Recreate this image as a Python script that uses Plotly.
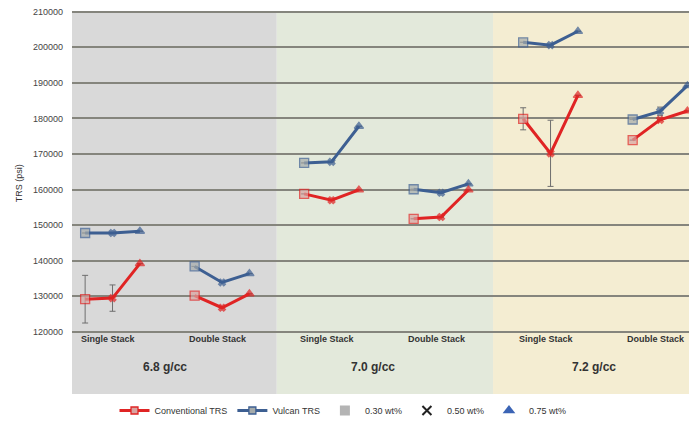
import plotly.graph_objects as go

# ---- data ----
densities = ["6.8 g/cc", "7.0 g/cc", "7.2 g/cc"]
stacks = ["Single Stack", "Double Stack"]
levels = ["0.30 wt%", "0.50 wt%", "0.75 wt%"]

# values per group (density x stack), each with 3 wt% levels
conventional = [
    [129200, 129500, 139200],   # 6.8 single
    [130200, 126800, 130700],   # 6.8 double
    [158800, 157000, 159900],   # 7.0 single
    [151800, 152300, 159900],   # 7.0 double
    [179900, 170200, 186500],   # 7.2 single
    [173900, 179600, 182100],   # 7.2 double
]
conventional_err = [
    [6700, 3700, 0],
    [0, 0, 0],
    [0, 0, 0],
    [0, 0, 0],
    [3100, 9300, 0],
    [0, 0, 0],
]
vulcan = [
    [147800, 147800, 148300],
    [138400, 133900, 136400],
    [167500, 167800, 177800],
    [160100, 159100, 161600],
    [201400, 200600, 204500],
    [179700, 182000, 189200],
]
vulcan_err = [
    [0, 0, 0],
    [0, 0, 0],
    [0, 0, 0],
    [0, 0, 0],
    [0, 0, 0],
    [0, 1200, 0],
]
y_ticks = [120000, 130000, 140000, 150000, 160000, 170000, 180000, 190000, 200000, 210000]

# ---- layout helpers ----
slots_per_group = 4
symbols = ["square", "x", "triangle-up"]

def build(values, errs):
    xs, ys, es, syms = [], [], [], []
    for g, (vals, ev) in enumerate(zip(values, errs)):
        for k, v in enumerate(vals):
            xs.append(g * slots_per_group + k)
            ys.append(v)
            es.append(ev[k])
            syms.append(symbols[k])
        xs.append(None); ys.append(None); es.append(0); syms.append("square")
    return xs, ys, es, syms

red = "#e02424"
blue = "#3d5f92"

fig = go.Figure()

panel_colors = ["#d9d9d9", "#e3e9db", "#f4edd2"]
panel_edges = [-0.48, 7.0, 14.9, 22.4]
for i, c in enumerate(panel_colors):
    fig.add_shape(type="rect", xref="x", yref="paper", x0=panel_edges[i], x1=panel_edges[i + 1],
                  y0=0, y1=0.997, fillcolor=c, line_width=0, layer="below")

cx, cy, ce, cs = build(conventional, conventional_err)
vx, vy, ve, vs = build(vulcan, vulcan_err)

def marker_style(syms, edge, fill_sq, fill_tri):
    fills = []
    sizes = []
    for s in syms:
        if s == "square":
            fills.append(fill_sq); sizes.append(9)
        elif s == "x":
            fills.append(edge); sizes.append(6)
        else:
            fills.append(fill_tri); sizes.append(8)
    return dict(symbol=syms, color=fills, size=sizes, line=dict(color=edge, width=1.3))

fig.add_trace(go.Scatter(
    x=vx, y=vy, mode="lines+markers", line=dict(color=blue, width=3),
    marker=marker_style(vs, blue, "#a5abab", blue),
    error_y=dict(type="data", array=ve, color="#7a7a7a", thickness=1, width=3),
    showlegend=False, connectgaps=False))
fig.add_trace(go.Scatter(
    x=cx, y=cy, mode="lines+markers", line=dict(color=red, width=3),
    marker=marker_style(cs, red, "#d9a3a0", red),
    error_y=dict(type="data", array=ce, color="#6e6e6e", thickness=1, width=3),
    showlegend=False, connectgaps=False))

# legend entries
fig.add_trace(go.Scatter(x=[None], y=[None], mode="lines+markers", name="Conventional TRS",
                         line=dict(color=red, width=3),
                         marker=dict(symbol="square", size=7, color="#d9a3a0", line=dict(color=red, width=1.3))))
fig.add_trace(go.Scatter(x=[None], y=[None], mode="lines+markers", name="Vulcan TRS",
                         line=dict(color=blue, width=3),
                         marker=dict(symbol="square", size=7, color="#a5abab", line=dict(color=blue, width=1.3))))
fig.add_trace(go.Scatter(x=[None], y=[None], mode="markers", name=levels[0],
                         marker=dict(symbol="square", size=10, color="#b4b4b4")))
fig.add_trace(go.Scatter(x=[None], y=[None], mode="markers", name=levels[1],
                         marker=dict(symbol="x-thin", size=9, line=dict(color="#222222", width=2))))
fig.add_trace(go.Scatter(x=[None], y=[None], mode="markers", name=levels[2],
                         marker=dict(symbol="triangle-up", size=11, color="#3b64b5")))

# category labels
label_font = dict(family="Liberation Sans", size=9, color="#333333")
for g in range(6):
    fig.add_annotation(x=g * slots_per_group + 0.85, y=0.125, xref="x", yref="paper",
                       text="<b>" + stacks[g % 2] + "</b>", showarrow=False, font=label_font)
density_x = [2.9, 10.5, 18.6]
for d, xpos in zip(densities, density_x):
    fig.add_annotation(x=xpos, y=0.047, xref="x", yref="paper", text="<b>" + d + "</b>",
                       showarrow=False, font=dict(family="Liberation Sans", size=12, color="#333333"))

fig.add_annotation(x=-0.097, y=0.55, xref="paper", yref="paper", text="TRS (psi)", textangle=-90,
                   showarrow=False, font=dict(family="Liberation Sans", size=9, color="#333333"))

fig.update_xaxes(range=[-0.48, 22.35], showgrid=False, zeroline=False, showticklabels=False, ticks="")
fig.update_yaxes(range=[102550, 210480], tickvals=y_ticks, ticktext=[str(t) for t in y_ticks],
                 showgrid=True, gridcolor="#85857d", gridwidth=2, zeroline=False,
                 tickfont=dict(family="Liberation Sans", size=9, color="#444444"), ticklen=0,
                 ticklabelstandoff=8, ticklabeloverflow="allow")

fig.update_layout(
    width=689, height=417,
    margin=dict(l=64, r=0, t=2, b=30),
    paper_bgcolor="white", plot_bgcolor="rgba(0,0,0,0)",
    legend=dict(orientation="h", x=0.068, y=-0.005, xanchor="left", yanchor="top",
                font=dict(family="Liberation Sans", size=9, color="#333333"),
                itemwidth=30, tracegroupgap=0, bgcolor="rgba(0,0,0,0)"),
)

fig.write_html("out.html")
